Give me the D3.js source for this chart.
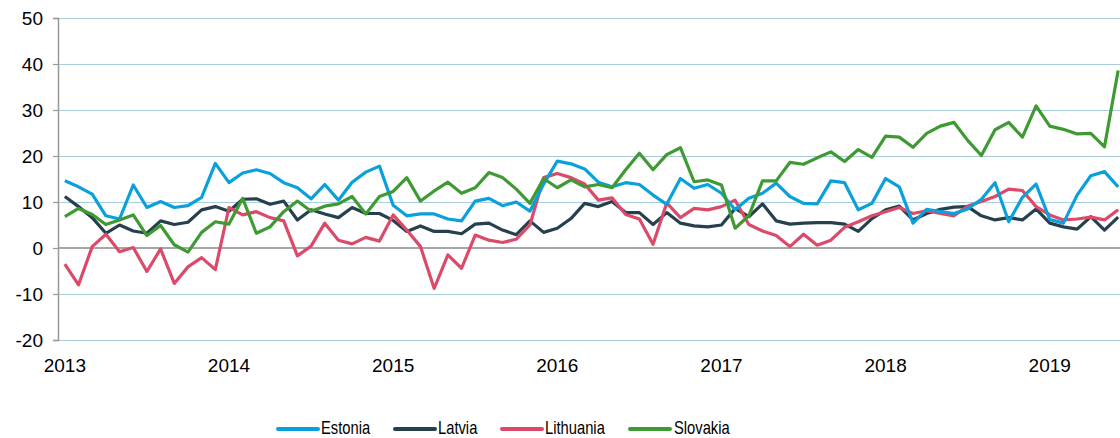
<!DOCTYPE html>
<html>
<head>
<meta charset="utf-8">
<script src="https://cdn.jsdelivr.net/npm/d3@7"></script>
<style>
  html, body { margin: 0; padding: 0; background: #fff; }
  svg { display: block; }
  text { font-family: "Liberation Sans", Arial, sans-serif; fill: #000; }
</style>
</head>
<body>
<svg id="chart" width="1120" height="438"></svg>
<script>
// Monthly series, Jan 2013 – Jun 2019 (% y/y)
const startMonth = new Date(2013, 0, 1);
const endMonth = new Date(2019, 6, 1);
const months = d3.timeMonth.range(startMonth, endMonth);

const yearLabels = ["2013", "2014", "2015", "2016", "2017", "2018", "2019"];
const yTicks = [-20, -10, 0, 10, 20, 30, 40, 50];

const estonia = [
  14.6, 13.3, 11.7, 7.0, 6.3, 13.7, 8.8, 10.1, 8.8, 9.2, 11.0, 18.4,
  14.2, 16.3, 17.0, 16.2, 14.2, 13.1, 10.7, 13.8, 10.4, 14.3, 16.5, 17.8,
  9.3, 7.0, 7.4, 7.4, 6.3, 5.9, 10.2, 10.8, 9.2, 10.0, 8.0, 13.9,
  18.9, 18.3, 17.2, 14.3, 13.3, 14.2, 13.8, 11.5, 9.5, 15.1, 13.0, 13.8,
  11.9, 8.3, 10.8, 11.9, 14.1, 11.2, 9.7, 9.6, 14.6, 14.2, 8.3, 9.7,
  15.1, 13.3, 5.4, 8.4, 7.9, 7.5, 8.5, 10.6, 14.2, 5.7, 11.0, 13.9,
  6.2, 5.4, 11.5, 15.7, 16.6, 13.3
];
const latvia = [
  11.2, 9.0, 6.6, 3.2, 5.0, 3.7, 3.2, 5.9, 5.1, 5.6, 8.3, 9.0,
  8.0, 10.6, 10.7, 9.5, 10.2, 6.1, 8.3, 7.4, 6.6, 8.8, 7.5, 7.5,
  6.0, 3.6, 4.8, 3.6, 3.6, 3.1, 5.2, 5.4, 3.9, 2.9, 5.9, 3.4,
  4.3, 6.4, 9.7, 9.0, 10.1, 7.7, 7.7, 5.1, 7.7, 5.4, 4.8, 4.6,
  5.0, 8.6, 6.8, 9.6, 5.9, 5.2, 5.4, 5.5, 5.5, 5.2, 3.6, 6.4,
  8.3, 9.1, 6.1, 7.5, 8.4, 8.9, 9.0, 7.0, 6.1, 6.6, 6.1, 8.5,
  5.4, 4.6, 4.1, 6.8, 3.9, 6.7
];
const lithuania = [
  -3.5, -8.0, 0.3, 3.0, -0.8, 0.1, -5.1, -0.2, -7.7, -4.1, -2.1, -4.7,
  8.8, 7.2, 7.9, 6.6, 5.9, -1.7, 0.4, 5.4, 1.7, 0.9, 2.3, 1.5,
  7.2, 3.9, 0.3, -8.8, -1.5, -4.4, 2.8, 1.7, 1.2, 1.9, 5.0, 15.3,
  16.2, 15.3, 13.9, 10.4, 10.9, 7.3, 6.3, 0.8, 9.8, 6.6, 8.6, 8.3,
  9.0, 10.4, 5.1, 3.7, 2.7, 0.3, 3.0, 0.6, 1.7, 4.5, 5.7, 7.0,
  7.9, 8.8, 7.5, 8.1, 7.5, 7.0, 9.1, 10.1, 11.2, 12.8, 12.5, 9.0,
  7.2, 6.1, 6.3, 6.7, 6.1, 8.3
];
const slovakia = [
  6.8, 8.6, 7.3, 5.1, 6.1, 7.2, 2.7, 4.9, 0.7, -0.9, 3.4, 5.7,
  5.2, 10.8, 3.2, 4.6, 7.9, 10.2, 8.0, 9.1, 9.6, 11.2, 7.4, 11.2,
  12.3, 15.3, 10.2, 12.4, 14.3, 11.9, 13.1, 16.4, 15.3, 12.8, 9.7, 15.1,
  13.1, 14.8, 13.3, 13.8, 13.1, 17.0, 20.6, 17.0, 20.3, 21.8, 14.4, 14.8,
  13.7, 4.3, 7.0, 14.6, 14.6, 18.6, 18.2, 19.6, 20.9, 18.8, 21.4, 19.7,
  24.3, 24.1, 21.9, 24.9, 26.5, 27.3, 23.4, 20.1, 25.7, 27.3, 24.1, 30.9,
  26.5, 25.8, 24.8, 24.9, 22.0, 38.6
];

const seriesNames = ["Estonia", "Latvia", "Lithuania", "Slovakia"];
const seriesColors = ["#0aa0dc", "#26404d", "#dc4a6a", "#3f9a34"];
const seriesValues = [estonia, latvia, lithuania, slovakia];

const svg = d3.select("#chart");
const plotLeft = 58, plotRight = 1125, plotTop = 18, plotBottom = 340;

const x = d3.scaleBand()
  .domain(months.map(d => +d))
  .range([plotLeft, plotRight])
  .padding(0);
const xc = d => x(+d) + x.bandwidth() / 2;

const y = d3.scaleLinear().domain([-20, 50]).range([plotBottom, plotTop]);

// Horizontal gridlines
svg.append("g")
  .selectAll("line")
  .data(yTicks.filter(v => v !== 0))
  .join("line")
  .attr("x1", plotLeft).attr("x2", 1120)
  .attr("y1", d => Math.round(y(d)) + 0.5).attr("y2", d => Math.round(y(d)) + 0.5)
  .attr("stroke", "#a9cde0").attr("stroke-width", 1.2);

// Zero line
svg.append("line")
  .attr("x1", plotLeft).attr("x2", 1120)
  .attr("y1", y(0)).attr("y2", y(0))
  .attr("stroke", "#a6a6a6").attr("stroke-width", 2);

// Left axis (plain hyphen for negatives)
const yAxis = d3.axisLeft(y).tickValues(yTicks).tickSize(5).tickPadding(10).tickFormat(d => String(d));
const gy = svg.append("g").attr("transform", `translate(${plotLeft},0)`).call(yAxis);
gy.select(".domain").attr("stroke", "#999").attr("stroke-width", 1.5);
gy.selectAll(".tick line").attr("stroke", "#999").attr("stroke-width", 1.2);
gy.selectAll(".tick text")
  .attr("font-size", 19)
  .attr("fill", "#000")
  .style("font-family", "'Liberation Sans', Arial, sans-serif");

// Year labels under each January
const januaries = months.filter(d => d.getMonth() === 0);
svg.append("g")
  .selectAll("text")
  .data(januaries)
  .join("text")
  .attr("x", d => xc(d))
  .attr("y", 372)
  .attr("text-anchor", "middle")
  .attr("font-size", 19)
  .text((d, i) => yearLabels[i]);

// Lines
const line = d3.line()
  .x((d, i) => xc(months[i]))
  .y(d => y(d));

svg.append("clipPath").attr("id", "plotclip")
  .append("rect").attr("x", plotLeft).attr("y", 0).attr("width", 1120 - plotLeft).attr("height", 438);

const linesG = svg.append("g").attr("clip-path", "url(#plotclip)");
[1, 2, 0, 3].forEach(k => {
  linesG.append("path")
    .datum(seriesValues[k])
    .attr("fill", "none")
    .attr("stroke", seriesColors[k])
    .attr("stroke-width", 3.2)
    .attr("stroke-linejoin", "round")
    .attr("d", line);
});

// Legend
const legendItems = [
  { x: 278, tx: 321 },
  { x: 395, tx: 438 },
  { x: 502, tx: 545 },
  { x: 630, tx: 674 }
];
const lg = svg.append("g");
seriesNames.forEach((name, k) => {
  lg.append("line")
    .attr("x1", legendItems[k].x).attr("x2", legendItems[k].x + 40)
    .attr("y1", 429).attr("y2", 429)
    .attr("stroke", seriesColors[k]).attr("stroke-width", 4).attr("stroke-linecap", "round");
  lg.append("text")
    .attr("transform", `translate(${legendItems[k].tx},434) scale(0.82,1)`)
    .attr("font-size", 18)
    .text(name);
});
</script>
</body>
</html>
